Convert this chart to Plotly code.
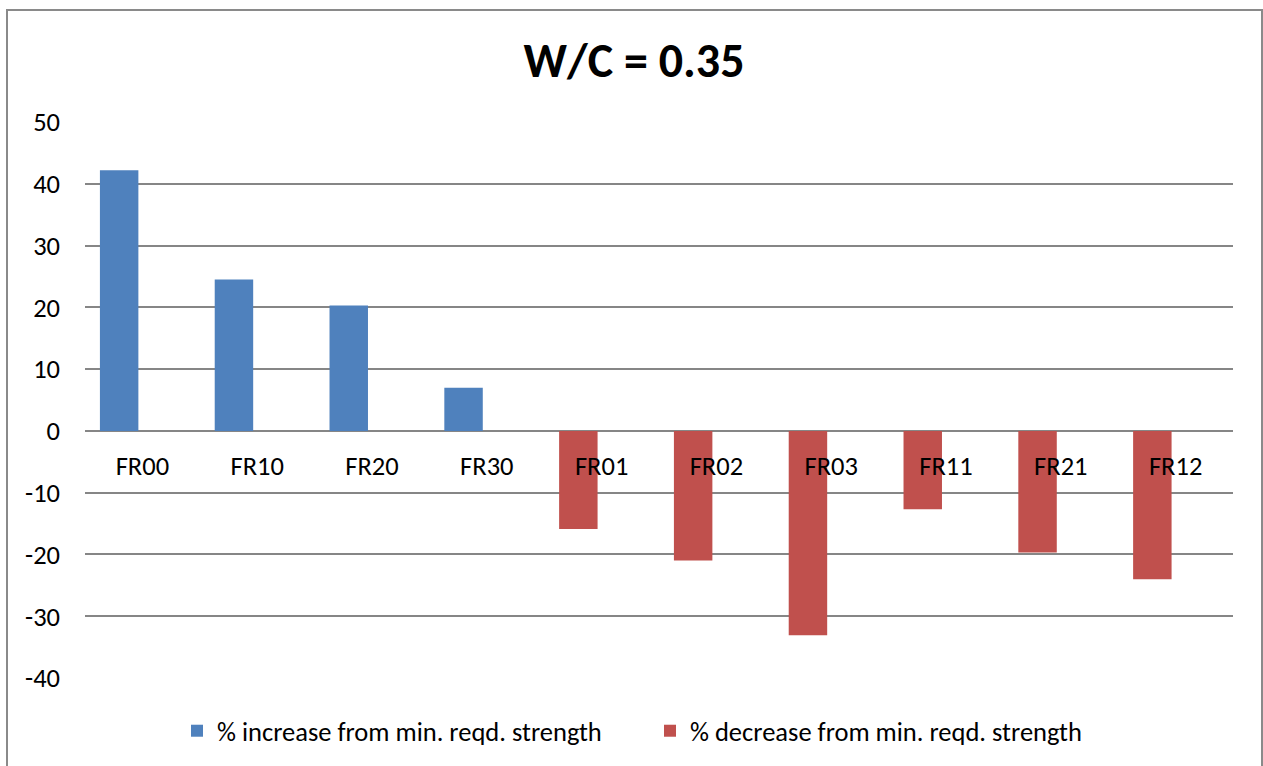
import plotly.graph_objects as go

# Mixes and their deviation from the minimum required strength (%)
categories = ["FR00", "FR10", "FR20", "FR30", "FR01", "FR02", "FR03", "FR11", "FR21", "FR12"]
increase_mixes = ["FR00", "FR10", "FR20", "FR30"]
increase_pct = [42.2, 24.5, 20.3, 7.0]
decrease_mixes = ["FR01", "FR02", "FR03", "FR11", "FR21", "FR12"]
decrease_pct = [-15.9, -21.0, -33.1, -12.7, -19.7, -24.0]
y_ticks = [50, 40, 30, 20, 10, 0, -10, -20, -30, -40]

FONT = "Carlito, Calibri, 'Liberation Sans Narrow', 'Open Sans', sans-serif"
BLUE = "#4F81BD"
RED = "#C0504D"
GRID = "#868686"
TXT = 26.5

W, H = 1263, 766
L, R, T, B = 85, 30, 122, 88
plot_w = W - L - R
plot_h = H - T - B
y_min, y_max = -40, 50

fig = go.Figure()
fig.add_trace(go.Bar(
    x=increase_mixes, y=increase_pct,
    name="% increase from min. reqd. strength",
    marker=dict(color=BLUE, line=dict(width=0)),
    offset=-0.37, width=0.335,
))
fig.add_trace(go.Bar(
    x=decrease_mixes, y=decrease_pct,
    name="% decrease from min. reqd. strength",
    marker=dict(color=RED, line=dict(width=0)),
    offset=-0.37, width=0.335,
))


def px_to_paper_x(px):
    return (px - L) / plot_w


def px_to_paper_y(py):
    return (H - B - py) / plot_h


# outer chart border
fig.add_shape(
    type="rect", xref="paper", yref="paper",
    x0=px_to_paper_x(7), x1=px_to_paper_x(1262),
    y0=px_to_paper_y(775), y1=px_to_paper_y(10),
    line=dict(color="#8A8A8A", width=2), fillcolor="rgba(0,0,0,0)",
    layer="below",
)

fig.update_layout(
    width=W, height=H,
    margin=dict(l=L, r=R, t=T, b=B, autoexpand=False),
    paper_bgcolor="white", plot_bgcolor="white",
    barmode="overlay",
    font=dict(family=FONT, size=TXT, color="#000000"),
    title=dict(
        text="<b>W/C = 0.35</b>",
        font=dict(family=FONT, size=48, color="#000000"),
        x=0.502, xref="container", xanchor="center",
        y=1 - 60 / H, yref="container", yanchor="middle",
    ),
    xaxis=dict(
        type="category",
        categoryorder="array", categoryarray=categories,
        range=[-0.5, len(categories) - 0.5],
        anchor="free", position=(0 - y_min) / (y_max - y_min),
        showline=False, showgrid=False, zeroline=False,
        ticks="", ticklabelstandoff=17,
        tickfont=dict(family=FONT, size=TXT, color="#000000"),
    ),
    yaxis=dict(
        range=[y_min, y_max],
        tickvals=y_ticks, ticktext=[str(v) for v in y_ticks],
        showgrid=True, gridcolor=GRID, gridwidth=1.6,
        zeroline=False, showline=False, ticks="",
        ticklabelstandoff=24,
        tickfont=dict(family=FONT, size=TXT, color="#000000"),
    ),
    legend=dict(
        orientation="h",
        x=px_to_paper_x(177), xanchor="left",
        y=px_to_paper_y(731), yanchor="middle",
        font=dict(family=FONT, size=TXT, color="#000000"),
        bgcolor="rgba(0,0,0,0)",
        itemwidth=30,
        entrywidth=428, entrywidthmode="pixels",
    ),
    showlegend=True,
)

fig.write_html("out.html")
